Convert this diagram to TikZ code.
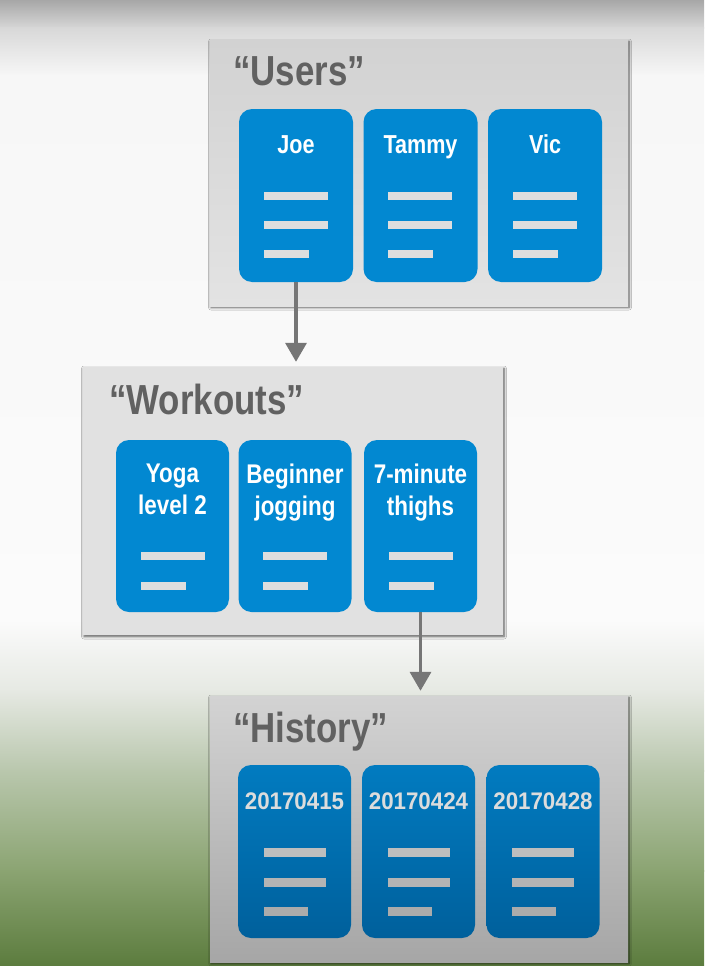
\documentclass[tikz,border=0pt]{standalone}
\usepackage{fontspec}
\newfontfamily\cond[FakeStretch=0.83]{Liberation Sans}
\newfontfamily\condd[FakeStretch=0.93]{Liberation Sans}
\usetikzlibrary{arrows.meta,shadows.blur,calc}
\definecolor{cardblue}{RGB}{2,136,209}
\definecolor{boxgray}{RGB}{225,225,225}
\definecolor{titlegray}{RGB}{97,97,97}
\definecolor{bargray}{RGB}{222,222,222}
\definecolor{conngray}{RGB}{118,118,118}
\definecolor{datetext}{RGB}{220,220,220}
\begin{document}
\begin{tikzpicture}[x=1pt,y=-1pt,
  panel/.style={draw=none, inner sep=0, minimum width=418pt, minimum height=266pt,
    blur shadow={shadow xshift=1pt, shadow yshift=-1.5pt, shadow blur radius=2.5pt, shadow blur steps=6, shadow opacity=65}},
  card/.style={fill=cardblue, rounded corners=13pt, inner sep=0, minimum width=114pt, minimum height=173pt},
  title/.style={anchor=base west, inner sep=0, text=titlegray, font=\cond\bfseries\fontsize{42}{42}\selectfont},
  ctext/.style={anchor=base, inner sep=0, text=white, font=\cond\bfseries\fontsize{26}{26}\selectfont},
  wtext/.style={anchor=base, inner sep=0, text=white, align=center, font=\cond\bfseries\fontsize{27}{32}\selectfont},
  dtext/.style={anchor=base, inner sep=0, text=datetext, font=\condd\bfseries\fontsize{24}{24}\selectfont},
  conn/.style={draw=conngray, line width=3.5pt, -{Triangle[length=19pt,width=21pt]}},
]
\useasboundingbox (0,0) rectangle (704,966);
% background
\shade[top color={rgb,255:red,167;green,167;blue,167}, bottom color={rgb,255:red,216;green,216;blue,216}] (0,0) rectangle (704,29);
\shade[top color={rgb,255:red,216;green,216;blue,216}, bottom color={rgb,255:red,247;green,247;blue,247}] (0,28) rectangle (704,76);
\shade[top color={rgb,255:red,247;green,247;blue,247}, bottom color={rgb,255:red,251;green,251;blue,251}] (0,75) rectangle (704,621);
\shade[top color={rgb,255:red,251;green,251;blue,251}, bottom color={rgb,255:red,230;green,233;blue,227}] (0,620) rectangle (704,691);
\shade[top color={rgb,255:red,230;green,233;blue,227}, bottom color={rgb,255:red,185;green,199;blue,173}] (0,690) rectangle (704,771);
\shade[top color={rgb,255:red,185;green,199;blue,173}, bottom color={rgb,255:red,139;green,164;blue,114}] (0,770) rectangle (704,871);
\shade[top color={rgb,255:red,139;green,164;blue,114}, bottom color={rgb,255:red,92;green,124;blue,62}] (0,870) rectangle (704,966);

% panels
\node[panel, top color={rgb,255:red,210;green,210;blue,210}, bottom color={rgb,255:red,227;green,227;blue,227}] (users) at (419,173) {};
\node[panel, fill=boxgray, minimum width=420pt, minimum height=268pt] (workouts) at (293,501) {};
\node[panel, top color={rgb,255:red,211;green,211;blue,211}, bottom color={rgb,255:red,166;green,166;blue,166}] (history) at (419,829) {};

% titles
\node[title] (usersT) at (233,85) {“Users”};
\node[title] (workoutsT) at (109,414) {“Workouts”};
\node[title] (historyT) at (233,742) {“History”};

% users cards
\node[card] (joe) at (296,195.5) {};
\node[card] (tammy) at (420.5,195.5) {};
\node[card] (vic) at (545,195.5) {};
\node[ctext] (joeT) at (296,153) {Joe};
\node[ctext] (tammyT) at (420.5,153) {Tammy};
\node[ctext] (vicT) at (545,153) {Vic};
\foreach \c in {joe,tammy,vic}{
  \foreach \dy/\w in {83/64,112/64,141/45}
    \fill[bargray] ($(\c.north west)+(25,\dy)$) rectangle ++(\w,8);
}

% workouts cards
\node[card, minimum width=113pt, minimum height=172pt] (yoga) at (172.5,526) {};
\node[card, minimum width=113pt, minimum height=172pt] (jog) at (295,526) {};
\node[card, minimum width=113pt, minimum height=172pt] (thighs) at (420.5,526) {};
\node[wtext, anchor=north] (yogaT) at (172.5,464) {Yoga\\level 2};
\node[wtext, anchor=north] (jogT) at (295,464) {Beginner\\jogging};
\node[wtext, anchor=north] (thighsT) at (420.5,464) {7-minute\\thighs};
\foreach \c in {yoga,jog,thighs}{
  \foreach \dy/\w in {112/64,142/45}
    \fill[bargray] ($(\c.north west)+(25,\dy)$) rectangle ++(\w,8);
}

% history cards
\foreach \n/\x in {d1/294.5,d2/418.5,d3/543}
  \node[card, fill=none, top color={rgb,255:red,1;green,123;blue,192}, bottom color={rgb,255:red,0;green,96;blue,156}, minimum width=113pt] (\n) at (\x,851.5) {};
\node[dtext] (d1T) at (294.5,809) {20170415};
\node[dtext] (d2T) at (418.5,809) {20170424};
\node[dtext] (d3T) at (543,809) {20170428};
\foreach \c in {d1,d2,d3}{
  \fill[fill={rgb,255:red,190;green,190;blue,190}] ($(\c.north west)+(26,83)$) rectangle ++(62,9);
  \fill[fill={rgb,255:red,180;green,180;blue,180}] ($(\c.north west)+(26,113)$) rectangle ++(62,9);
  \fill[fill={rgb,255:red,171;green,171;blue,171}] ($(\c.north west)+(26,142)$) rectangle ++(44,9);
}

% connectors
\draw[conn, shorten >=5pt] (joe.south) -- (joe.south |- workouts.north);
\draw[conn, shorten >=5pt] (thighs.south) -- (thighs.south |- history.north);
\end{tikzpicture}
\end{document}
